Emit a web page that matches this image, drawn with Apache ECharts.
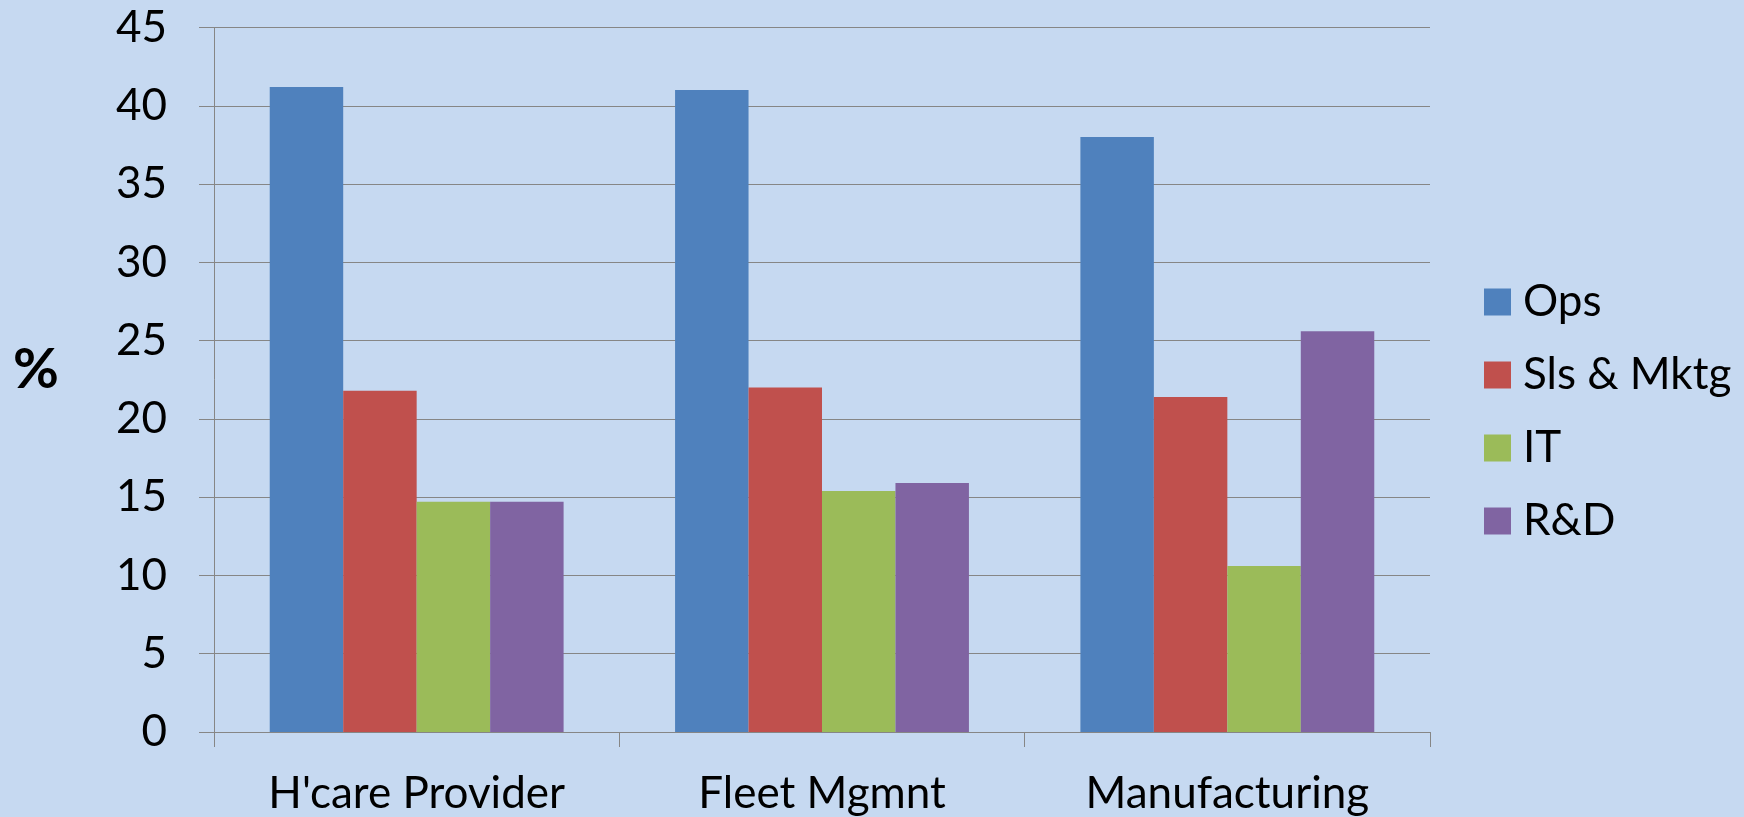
<!DOCTYPE html>
<html>
<head>
<meta charset="utf-8">
<script src="https://cdn.jsdelivr.net/npm/echarts@6/dist/echarts.min.js"></script>
<style>
html,body{margin:0;padding:0;background:#C6D9F1;}
#chart{width:1744px;height:817px;}
</style>
</head>
<body>
<div id="chart"></div>
<script>
const categories = ["H'care Provider", "Fleet Mgmnt", "Manufacturing"];
const seriesNames = ["Ops", "Sls & Mktg", "IT", "R&D"];
const opsValues = [41.2, 41.0, 38.0];
const slsValues = [21.8, 22.0, 21.4];
const itValues = [14.7, 15.4, 10.6];
const rdValues = [14.7, 15.9, 25.6];
const colors = ["#4F81BD", "#C0504D", "#9BBB59", "#8064A2"];
const yMin = 0, yMax = 45, yInterval = 5;

const FONT = "Lato, 'Open Sans', sans-serif";
const allValues = [opsValues, slsValues, itValues, rdValues];

const chart = echarts.init(document.getElementById('chart'));
chart.setOption({
  backgroundColor: '#C6D9F1',
  animation: false,
  grid: { left: 214, right: 314, top: 27.5, bottom: 85, containLabel: false, outerBoundsMode: 'none' },
  legend: {
    orient: 'vertical',
    left: 1479,
    top: 275,
    itemWidth: 27,
    itemHeight: 27,
    itemGap: 29,
    icon: 'rect',
    textStyle: { fontFamily: FONT, fontSize: 44, color: '#000', padding: [0, 0, 0, 7] },
    data: seriesNames
  },
  xAxis: {
    type: 'category',
    data: categories,
    axisLine: { lineStyle: { color: '#868686', width: 1 } },
    axisTick: { show: true, length: 15, lineStyle: { color: '#868686' } },
    axisLabel: { fontFamily: FONT, fontSize: 44, color: '#000', margin: 40 }
  },
  yAxis: {
    type: 'value',
    min: yMin, max: yMax, interval: yInterval,
    axisLine: { show: true, lineStyle: { color: '#868686', width: 1 } },
    axisTick: { show: true, length: 15, lineStyle: { color: '#868686' } },
    splitLine: { show: true, lineStyle: { color: '#868686', width: 1 } },
    axisLabel: { fontFamily: FONT, fontSize: 44, color: '#000', margin: 47 }
  },
  graphic: [{
    type: 'text',
    left: 13, top: 342,
    style: { text: '%', font: 'bold 56px ' + FONT, fill: '#000' }
  }],
  series: seriesNames.map((name, i) => ({
    name: name,
    type: 'bar',
    data: allValues[i],
    barGap: '0%',
    barCategoryGap: '27.5%',
    itemStyle: { color: colors[i] }
  }))
});
</script>
</body>
</html>
